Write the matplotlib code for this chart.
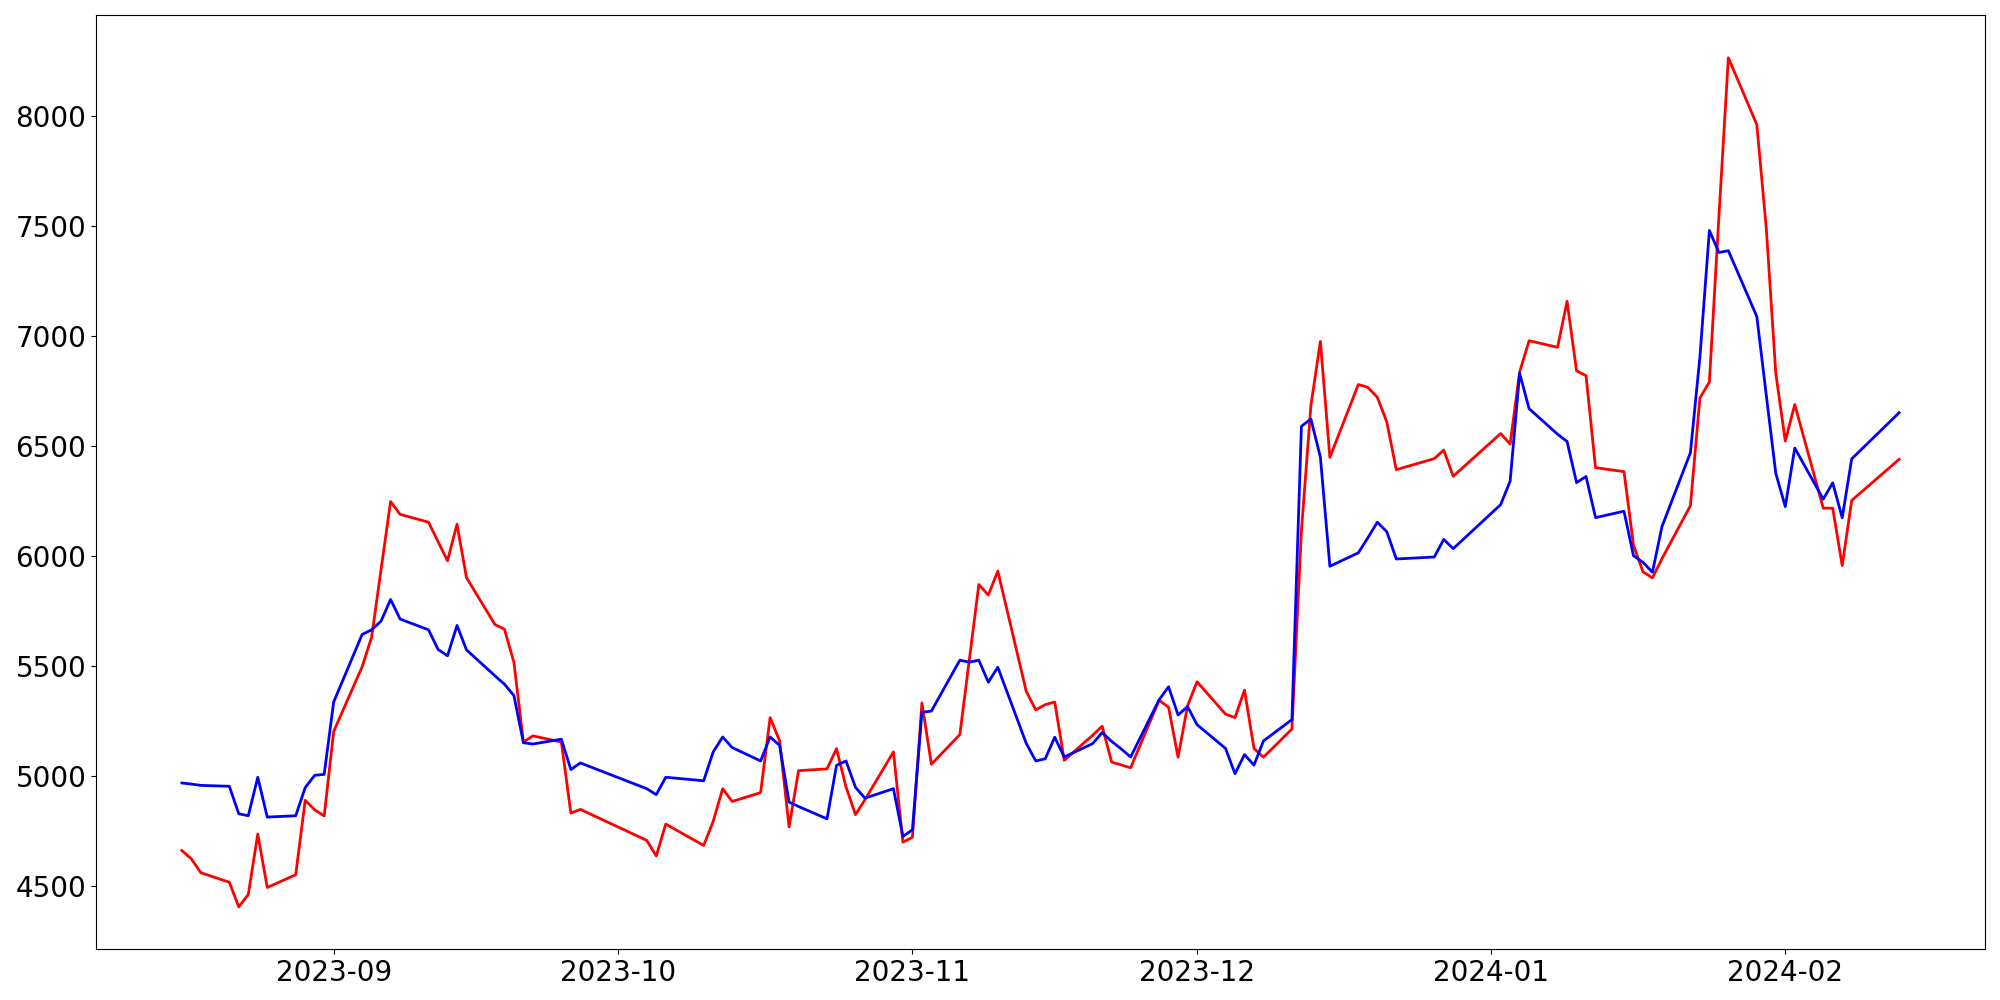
import numpy as np
import pandas as pd
import matplotlib
matplotlib.use('Agg')
import matplotlib.pyplot as plt
import matplotlib.dates as mdates

# trading days (KRX calendar), 2023-08-16 .. 2024-02-13
holidays = ['2023-09-28', '2023-09-29', '2023-10-02', '2023-10-03', '2023-10-09',
            '2023-12-25', '2023-12-29', '2024-01-01', '2024-02-09', '2024-02-12']
dates = pd.bdate_range('2023-08-16', '2024-02-13', freq='C', holidays=holidays)

# red series
red_aug = [4662, 4624, 4561, 4518, 4406, 4462, 4737, 4494, 4552, 4890, 4847, 4819]
red_sep = [5203, 5497, 5631, 5941, 6248, 6190, 6154, 6066, 5979, 6145, 5902, 5689, 5668,
           5517, 5155, 5183, 5155, 4832, 4849]
red_oct = [4708, 4637, 4782, 4685, 4794, 4943, 4885, 4925, 5266, 5161, 4769, 5025, 5033,
           5125, 4951, 4825, 4893, 5110, 4700]
red_nov = [4722, 5333, 5054, 5189, 5530, 5871, 5823, 5932, 5385, 5301, 5325, 5337, 5072,
           5186, 5227, 5064, 5051, 5038, 5345, 5313, 5086, 5320]
red_dec = [5429, 5282, 5266, 5391, 5126, 5086, 5214, 6114, 6684, 6976, 6449, 6780, 6767,
           6722, 6610, 6393, 6443, 6482, 6363]
red_jan = [6557, 6509, 6837, 6979, 6949, 7158, 6842, 6820, 6402, 6384, 6050, 5929, 5901,
           5988, 6229, 6718, 6792, 7540, 8265, 7961, 7489, 6831]
red_feb = [6523, 6689, 6218, 6218, 5957, 6253, 6440]

# blue series
blue_aug = [4969, 4964, 4958, 4954, 4829, 4820, 4995, 4814, 4820, 4948, 5004, 5008]
blue_sep = [5337, 5644, 5665, 5705, 5803, 5714, 5665, 5576, 5547, 5685, 5574, 5456, 5418,
            5366, 5152, 5146, 5168, 5030, 5060]
blue_oct = [4943, 4916, 4995, 4979, 5110, 5178, 5130, 5069, 5178, 5140, 4882, 4862, 4806,
            5049, 5069, 4949, 4900, 4943, 4726]
blue_nov = [4756, 5290, 5296, 5527, 5518, 5527, 5427, 5495, 5149, 5069, 5079, 5177, 5087,
            5148, 5198, 5158, 5124, 5087, 5347, 5406, 5278, 5316]
blue_dec = [5234, 5126, 5011, 5098, 5050, 5160, 5257, 6590, 6623, 6450, 5954, 6015, 6083,
            6154, 6111, 5987, 5996, 6076, 6034]
blue_jan = [6234, 6341, 6831, 6670, 6554, 6521, 6334, 6362, 6175, 6204, 6002, 5972, 5927,
            6134, 6470, 6904, 7480, 7380, 7388, 7089, 6730, 6376]
blue_feb = [6225, 6491, 6259, 6333, 6174, 6442, 6652]

red = red_aug + red_sep + red_oct + red_nov + red_dec + red_jan + red_feb
blue = blue_aug + blue_sep + blue_oct + blue_nov + blue_dec + blue_jan + blue_feb

fig, ax = plt.subplots(figsize=(20, 10), dpi=100)
ax.plot(dates, red, color='red', linewidth=2)
ax.plot(dates, blue, color='blue', linewidth=2)

ax.xaxis.set_major_locator(mdates.MonthLocator())
ax.xaxis.set_major_formatter(mdates.DateFormatter('%Y-%m'))
ax.tick_params(axis='both', labelsize=20)

plt.subplots_adjust(left=0.048, right=0.9925, bottom=0.0507, top=0.9847)
plt.savefig('out.png')
